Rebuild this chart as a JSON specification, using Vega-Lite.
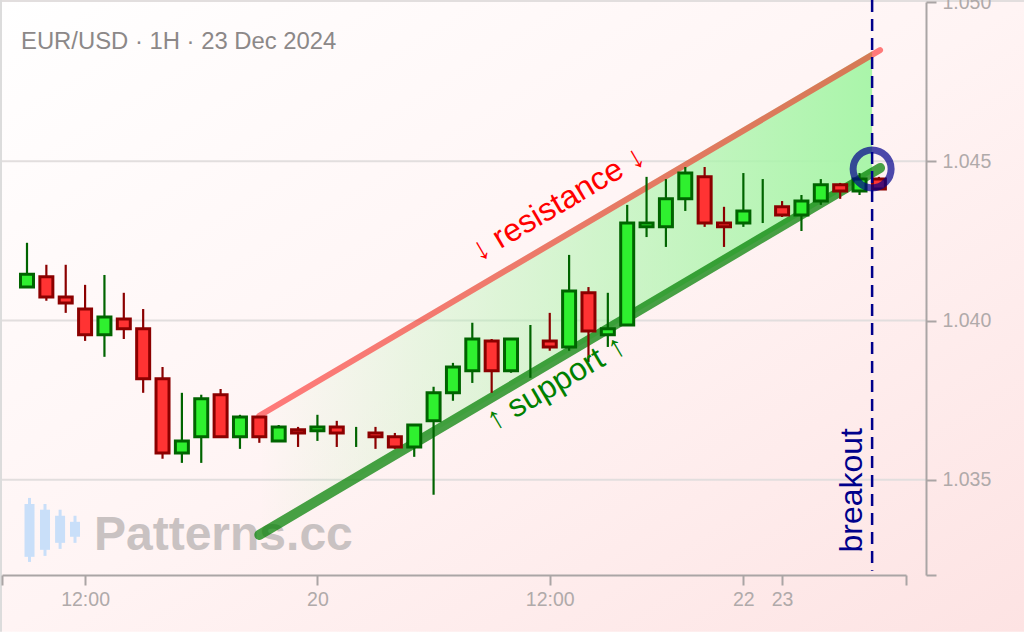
{
"$schema":"https://vega.github.io/schema/vega-lite/v6.json",
"width":904,"height":573,
"autosize":{"type":"none"},
"padding":{"left":2,"top":2,"right":118,"bottom":57},
"background":"#ffffff",
"view":{"stroke":null},
"config":{"font":"Liberation Sans","view":{"stroke":null},"axis":{"title":null,"grid":false},"scale":{"continuousPadding":0}},
"datasets":{
"candles":[
{"x":0,"open":1.04105,"close":1.04145,"high":1.04244,"low":1.04105,"dir":"up"},
{"x":1,"open":1.04137,"close":1.04074,"high":1.04175,"low":1.04062,"dir":"down"},
{"x":2,"open":1.04074,"close":1.04055,"high":1.04175,"low":1.04024,"dir":"down"},
{"x":3,"open":1.04036,"close":1.03955,"high":1.04112,"low":1.03936,"dir":"down"},
{"x":4,"open":1.03955,"close":1.04011,"high":1.04143,"low":1.03886,"dir":"up"},
{"x":5,"open":1.04005,"close":1.03974,"high":1.04087,"low":1.03942,"dir":"down"},
{"x":6,"open":1.03974,"close":1.03817,"high":1.04036,"low":1.03773,"dir":"down"},
{"x":7,"open":1.03817,"close":1.03584,"high":1.03854,"low":1.03566,"dir":"down"},
{"x":8,"open":1.03584,"close":1.03622,"high":1.03773,"low":1.03553,"dir":"up"},
{"x":9,"open":1.03635,"close":1.03754,"high":1.03767,"low":1.03553,"dir":"up"},
{"x":10,"open":1.03767,"close":1.03635,"high":1.03785,"low":1.03635,"dir":"down"},
{"x":11,"open":1.03635,"close":1.03697,"high":1.03704,"low":1.03597,"dir":"up"},
{"x":12,"open":1.03697,"close":1.03635,"high":1.03697,"low":1.03616,"dir":"down"},
{"x":13,"open":1.03622,"close":1.03666,"high":1.03672,"low":1.03622,"dir":"up"},
{"x":14,"open":1.03657,"close":1.03647,"high":1.03666,"low":1.03603,"dir":"down"},
{"x":15,"open":1.03654,"close":1.03666,"high":1.03704,"low":1.03622,"dir":"up"},
{"x":16,"open":1.03666,"close":1.03647,"high":1.03685,"low":1.03603,"dir":"down"},
{"x":17,"high":1.03666,"low":1.03603,"dir":"up"},
{"x":18,"open":1.03647,"close":1.03635,"high":1.03666,"low":1.03597,"dir":"down"},
{"x":19,"open":1.03635,"close":1.03603,"high":1.03647,"low":1.03597,"dir":"down"},
{"x":20,"open":1.03603,"close":1.03672,"high":1.03672,"low":1.03572,"dir":"up"},
{"x":21,"open":1.03685,"close":1.03773,"high":1.03792,"low":1.03453,"dir":"up"},
{"x":22,"open":1.03773,"close":1.03854,"high":1.03867,"low":1.03748,"dir":"up"},
{"x":23,"open":1.03842,"close":1.03942,"high":1.03993,"low":1.03804,"dir":"up"},
{"x":24,"open":1.03936,"close":1.03842,"high":1.03942,"low":1.03773,"dir":"down"},
{"x":25,"open":1.03842,"close":1.03942,"high":1.03942,"low":1.03836,"dir":"up"},
{"x":26,"high":1.03986,"low":1.0382,"dir":"up"},
{"x":27,"open":1.03936,"close":1.03917,"high":1.04024,"low":1.03905,"dir":"down"},
{"x":28,"open":1.03917,"close":1.04093,"high":1.04206,"low":1.03905,"dir":"up"},
{"x":29,"open":1.04087,"close":1.03967,"high":1.04105,"low":1.0387,"dir":"down"},
{"x":30,"open":1.03955,"close":1.03974,"high":1.04087,"low":1.03917,"dir":"up"},
{"x":31,"open":1.03986,"close":1.04306,"high":1.04363,"low":1.03986,"dir":"up"},
{"x":32,"open":1.04294,"close":1.04306,"high":1.04451,"low":1.04262,"dir":"up"},
{"x":33,"open":1.04294,"close":1.04382,"high":1.04444,"low":1.04231,"dir":"up"},
{"x":34,"open":1.04382,"close":1.04463,"high":1.04482,"low":1.04344,"dir":"up"},
{"x":35,"open":1.04451,"close":1.04306,"high":1.04482,"low":1.04294,"dir":"down"},
{"x":36,"open":1.04306,"close":1.04294,"high":1.04357,"low":1.04231,"dir":"down"},
{"x":37,"open":1.04306,"close":1.04344,"high":1.04463,"low":1.04294,"dir":"up"},
{"x":38,"high":1.04444,"low":1.04306,"dir":"up"},
{"x":39,"open":1.04357,"close":1.04331,"high":1.04375,"low":1.04325,"dir":"down"},
{"x":40,"open":1.04331,"close":1.04375,"high":1.04394,"low":1.04281,"dir":"up"},
{"x":41,"open":1.04375,"close":1.04426,"high":1.04444,"low":1.04363,"dir":"up"},
{"x":42,"open":1.04426,"close":1.04407,"high":1.04432,"low":1.04382,"dir":"down"},
{"x":43,"open":1.04407,"close":1.04444,"high":1.04463,"low":1.04394,"dir":"up"},
{"x":44,"open":1.04444,"close":1.04413,"high":1.04451,"low":1.04413,"dir":"down"}
],
"logo":[
{"x":0.13,"open":1.03258,"close":1.03424,"high":1.03443,"low":1.03242},
{"x":0.93,"open":1.0328,"close":1.03406,"high":1.03424,"low":1.03261},
{"x":1.71,"open":1.03302,"close":1.03387,"high":1.03406,"low":1.03283},
{"x":2.48,"open":1.03321,"close":1.03368,"high":1.03387,"low":1.03302}
]
},
"data":{"name":"candles"},
"encoding":{"x":{"field":"x","type":"quantitative","scale":{"domain":[-1.291,45.4],"nice":false,"zero":false,"padding":0}}},
"layer":[
{"data":{"values":[{"x":-1.395,"x2":51.498,"y":1.05006,"y2":1.03023}]},
"mark":{"type":"rect","fill":{"x1":0,"y1":0,"x2":1,"y2":1,"gradient":"linear","stops":[{"offset":0,"color":"#ffffff"},{"offset":0.5,"color":"#fff4f4"},{"offset":1,"color":"#fde3e3"}]}},
"encoding":{
"x":{"field":"x","type":"quantitative","scale":{"domain":[-1.291,45.4],"nice":false,"zero":false,"padding":0},"axis":{"zindex":1,"values":[-1.291,3,15,27,37,39,45.4],"labelExpr":"datum.value==3||datum.value==27?'12:00':datum.value==15?'20':datum.value==37?'22':datum.value==39?'23':''","labelFontSize":19.5,"labelColor":"#b0aaaa","tickColor":"#aaa5a5","domainColor":"#aaa5a5","tickWidth":2,"domainWidth":2,"tickSize":10,"labelPadding":5,"labelOverlap":false,"labelFlush":false,"labelBound":false}},
"x2":{"field":"x2"},
"y":{"field":"y","type":"quantitative","scale":{"domain":[1.03201,1.05],"nice":false,"zero":false,"padding":0},"axis":{"zindex":1,"orient":"right","offset":20,"values":[1.03201,1.035,1.04,1.045,1.05],"labelExpr":"datum.value<1.033?'':format(datum.value,'.3f')","labelFontSize":19.5,"labelColor":"#b0aaaa","tickColor":"#aaa5a5","domainColor":"#aaa5a5","tickWidth":2,"domainWidth":2,"tickSize":10,"labelPadding":6,"labelOverlap":false,"labelFlush":false,"labelBound":false}},
"y2":{"field":"y2"}}},
{"data":{"values":[{"x":-1.395,"x2":46.43,"y":1.045},{"x":-1.395,"x2":46.43,"y":1.04},{"x":-1.395,"x2":46.43,"y":1.035},{"x":-1.395,"x2":51.498,"y":1.05003}]},
"mark":{"type":"rule","stroke":"#e2dede","strokeWidth":2},
"encoding":{"x":{"field":"x","type":"quantitative"},"x2":{"field":"x2"},"y":{"field":"y","type":"quantitative"}}},
{"data":{"values":[{"x":-1.343,"y":1.05006,"y2":1.03023}]},
"mark":{"type":"rule","stroke":"#dcdcdc","strokeWidth":2},
"encoding":{"x":{"field":"x","type":"quantitative"},"y":{"field":"y","type":"quantitative"},"y2":{"field":"y2"}}},
{"data":{"values":[{"x":-0.31,"y":1.04852,"t":"EUR/USD · 1H · 23 Dec 2024"}]},
"mark":{"type":"text","align":"left","baseline":"alphabetic","fontSize":23.85,"fill":"#8c8888"},
"encoding":{"y":{"field":"y","type":"quantitative"},"text":{"field":"t"}}},
{"data":{"values":[{"x":3.46,"y":1.0328,"t":"Patterns.cc"}]},
"mark":{"type":"text","align":"left","baseline":"alphabetic","fontSize":48,"fontWeight":"bold","fill":"#c9c2c2"},
"encoding":{"y":{"field":"y","type":"quantitative"},"text":{"field":"t"}}},
{"data":{"name":"logo"},"mark":{"type":"rule","stroke":"#c9dff9","strokeWidth":3},
"encoding":{"y":{"field":"high","type":"quantitative"},"y2":{"field":"low"}}},
{"data":{"name":"logo"},"mark":{"type":"bar","size":10,"orient":"vertical","fill":"#c9dff9"},
"encoding":{"y":{"field":"close","type":"quantitative"},"y2":{"field":"open"}}},
{"data":{"values":[{"x":12,"y":1.03712,"y2":1.03327},{"x":43.65,"y":1.04845,"y2":1.04463}]},
"mark":{"type":"area","fill":{"x1":0,"y1":0,"x2":1,"y2":0,"gradient":"linear","stops":[{"offset":0,"color":"rgba(170,245,170,0)"},{"offset":1,"color":"rgba(170,245,170,1)"}]}},
"encoding":{"y":{"field":"y","type":"quantitative"},"y2":{"field":"y2"}}},
{"data":{"values":[{"x":12,"y":1.03701},{"x":44.06,"y":1.04849}]},
"mark":{"type":"line","stroke":"rgba(255,0,0,0.5)","strokeWidth":6,"strokeCap":"round"},
"encoding":{"y":{"field":"y","type":"quantitative"}}},
{"data":{"values":[{"x":12,"y":1.03327},{"x":44.06,"y":1.04479}]},
"mark":{"type":"line","stroke":"rgba(0,128,0,0.72)","strokeWidth":10,"strokeCap":"round"},
"encoding":{"y":{"field":"y","type":"quantitative"}}},
{"mark":{"type":"rule","strokeWidth":2.2},
"encoding":{"y":{"field":"high","type":"quantitative"},"y2":{"field":"low"},
"stroke":{"field":"dir","type":"nominal","scale":{"domain":["up","down"],"range":["#006400","#8b0000"]},"legend":null}}},
{"mark":{"type":"bar","size":13,"orient":"vertical","strokeWidth":3},
"encoding":{"y":{"field":"close","type":"quantitative"},"y2":{"field":"open"},
"fill":{"field":"dir","type":"nominal","scale":{"domain":["up","down"],"range":["#2ff02f","#ff3333"]},"legend":null},
"stroke":{"field":"dir","type":"nominal","scale":{"domain":["up","down"],"range":["#006400","#8b0000"]},"legend":null}}},
{"data":{"values":[{"x":43.65,"y":1.05006,"y2":1.03214}]},
"mark":{"type":"rule","stroke":"#00008b","strokeWidth":2.5,"strokeDash":[12,7]},
"encoding":{"y":{"field":"y","type":"quantitative"},"y2":{"field":"y2"}}},
{"data":{"values":[{"x":43.65,"y":1.04476}]},
"mark":{"type":"point","shape":"circle","size":1444,"filled":false,"stroke":"rgba(0,0,139,0.7)","strokeWidth":7,"opacity":1},
"encoding":{"y":{"field":"y","type":"quantitative"}}},
{"data":{"values":[{"x":43.13,"y":1.03467,"t":"breakout"}]},
"mark":{"type":"text","angle":270,"align":"center","baseline":"alphabetic","fontSize":32,"fill":"#00008b"},
"encoding":{"y":{"field":"y","type":"quantitative"},"text":{"field":"t"}}},
{"data":{"values":[{"x":27.69,"y":1.0434,"t":"↓ resistance ↓"}]},
"mark":{"type":"text","angle":329.4,"align":"center","baseline":"alphabetic","fontSize":32,"fill":"#ff0000"},
"encoding":{"y":{"field":"y","type":"quantitative"},"text":{"field":"t"}}},
{"data":{"values":[{"x":27.58,"y":1.03777,"t":"↑ support ↑"}]},
"mark":{"type":"text","angle":329.4,"align":"center","baseline":"alphabetic","fontSize":32,"fill":"#008000"},
"encoding":{"y":{"field":"y","type":"quantitative"},"text":{"field":"t"}}}
]
}
